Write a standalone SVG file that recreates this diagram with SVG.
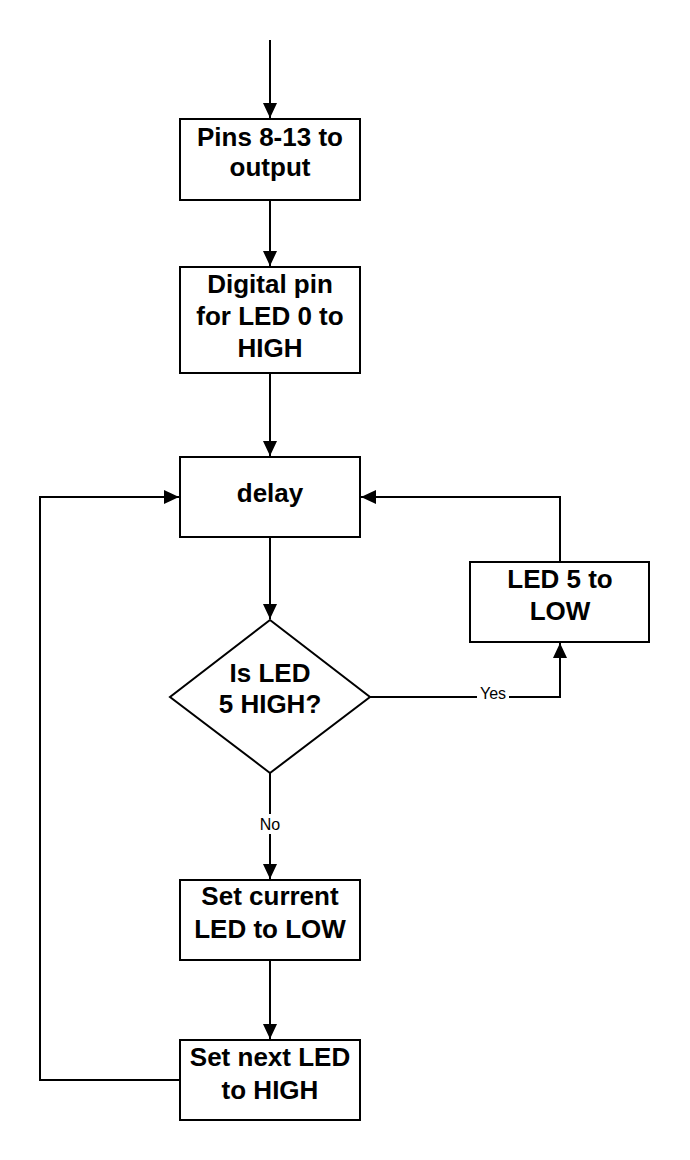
<svg xmlns="http://www.w3.org/2000/svg" width="690" height="1160" viewBox="0 0 690 1160">
<style>
.box{fill:#fff;stroke:#000;stroke-width:2}
.t{font-family:"Liberation Sans",Arial,sans-serif;font-weight:bold;font-size:26px;text-anchor:middle;fill:#000}
.lbl{font-family:"Liberation Sans",Arial,sans-serif;font-size:16px;text-anchor:middle;fill:#000}
.c{fill:none;stroke:#000;stroke-width:2}
</style>
<defs>
<marker id="ah" markerUnits="userSpaceOnUse" markerWidth="16" markerHeight="14" refX="15" refY="7" orient="auto">
<path d="M0,0 L15,7 L0,14 Z" fill="#000"/>
</marker>
</defs>
<rect width="690" height="1160" fill="#fff"/>
<g id="connectors">
<path class="c" d="M270,40 V118" marker-end="url(#ah)"/>
<path class="c" d="M270,200 V266" marker-end="url(#ah)"/>
<path class="c" d="M270,373 V456" marker-end="url(#ah)"/>
<path class="c" d="M270,537 V619" marker-end="url(#ah)"/>
<path class="c" d="M370,697 H560 V643" marker-end="url(#ah)"/>
<path class="c" d="M560,562 V497 H361" marker-end="url(#ah)"/>
<path class="c" d="M270,773 V879" marker-end="url(#ah)"/>
<path class="c" d="M270,960 V1039" marker-end="url(#ah)"/>
<path class="c" d="M180,1080 H40 V497 H179" marker-end="url(#ah)"/>
<rect x="477" y="686" width="32" height="18" fill="#fff"/>
<text class="lbl" x="493" y="699">Yes</text>
<rect x="256" y="814" width="28" height="20" fill="#fff"/>
<text class="lbl" x="270" y="830">No</text>
</g>
<g id="n1"><rect class="box" x="180" y="119" width="180" height="81"/>
<text class="t" x="270" y="146">Pins 8-13 to</text><text class="t" x="270" y="176">output</text></g>
<g id="n2"><rect class="box" x="180" y="267" width="180" height="106"/>
<text class="t" x="270" y="293">Digital pin</text><text class="t" x="270" y="325">for LED 0 to</text><text class="t" x="270" y="357">HIGH</text></g>
<g id="n3"><rect class="box" x="180" y="457" width="180" height="80"/>
<text class="t" x="270" y="502">delay</text></g>
<g id="n4"><polygon class="box" points="270,620 370,697 270,773 170,697"/>
<text class="t" x="270" y="682">Is LED</text><text class="t" x="270" y="713">5 HIGH?</text></g>
<g id="n5"><rect class="box" x="470" y="562" width="179" height="80"/>
<text class="t" x="560" y="588">LED 5 to</text><text class="t" x="560" y="620">LOW</text></g>
<g id="n6"><rect class="box" x="180" y="880" width="180" height="80"/>
<text class="t" x="270" y="905">Set current</text><text class="t" x="270" y="938">LED to LOW</text></g>
<g id="n7"><rect class="box" x="180" y="1040" width="180" height="80"/>
<text class="t" x="270" y="1066">Set next LED</text><text class="t" x="270" y="1099">to HIGH</text></g>
</svg>
